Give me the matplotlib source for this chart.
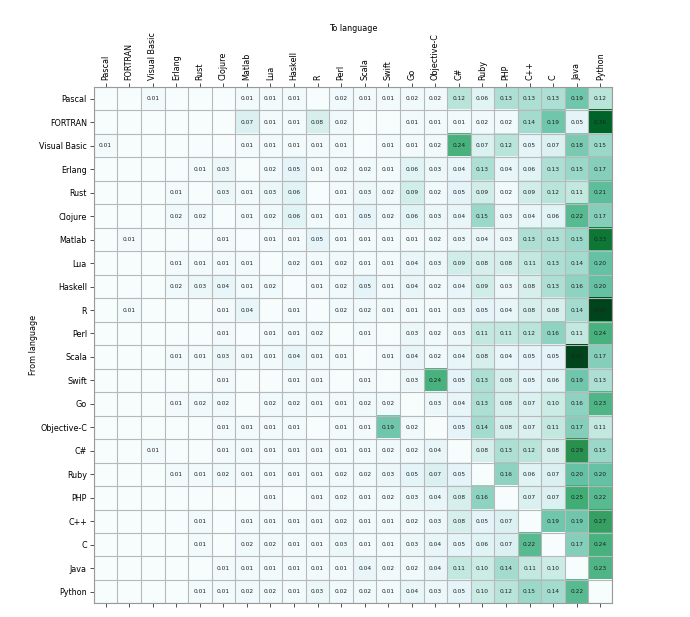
import matplotlib
matplotlib.use('Agg')
import matplotlib.pyplot as plt
import numpy as np

languages = ['Pascal', 'FORTRAN', 'Visual Basic', 'Erlang', 'Rust', 'Clojure',
             'Matlab', 'Lua', 'Haskell', 'R', 'Perl', 'Scala', 'Swift', 'Go',
             'Objective-C', 'C#', 'Ruby', 'PHP', 'C++', 'C', 'Java', 'Python']

# rows = from language, columns = to language (same order as languages)
pascal      = [0, 0, .01, 0, 0, 0, .01, .01, .01, 0, .02, .01, .01, .02, .02, .12, .06, .13, .13, .13, .19, .12]
fortran     = [0, 0, 0, 0, 0, 0, .07, .01, .01, .08, .02, 0, 0, .01, .01, .01, .02, .02, .14, .19, .05, .36]
visualbasic = [.01, 0, 0, 0, 0, 0, .01, .01, .01, .01, .01, 0, .01, .01, .02, .24, .07, .12, .05, .07, .18, .15]
erlang      = [0, 0, 0, 0, .01, .03, 0, .02, .05, .01, .02, .02, .01, .06, .03, .04, .13, .04, .06, .13, .15, .17]
rust        = [0, 0, 0, .01, 0, .03, .01, .03, .06, 0, .01, .03, .02, .09, .02, .05, .09, .02, .09, .12, .11, .21]
clojure     = [0, 0, 0, .02, .02, 0, .01, .02, .06, .01, .01, .05, .02, .06, .03, .04, .15, .03, .04, .06, .22, .17]
matlab      = [0, .01, 0, 0, 0, .01, 0, .01, .01, .05, .01, .01, .01, .01, .02, .03, .04, .03, .13, .13, .15, .33]
lua         = [0, 0, 0, .01, .01, .01, .01, 0, .02, .01, .02, .01, .01, .04, .03, .09, .08, .08, .11, .13, .14, .20]
haskell     = [0, 0, 0, .02, .03, .04, .01, .02, 0, .01, .02, .05, .01, .04, .02, .04, .09, .03, .08, .13, .16, .20]
r_lang      = [0, .01, 0, 0, 0, .01, .04, 0, .01, 0, .02, .02, .01, .01, .01, .03, .05, .04, .08, .08, .14, .40]
perl        = [0, 0, 0, 0, 0, .01, 0, .01, .01, .02, 0, .01, 0, .03, .02, .03, .11, .11, .12, .16, .11, .24]
scala       = [0, 0, 0, .01, .01, .03, .01, .01, .04, .01, .01, 0, .01, .04, .02, .04, .08, .04, .05, .05, .40, .17]
swift       = [0, 0, 0, 0, 0, .01, 0, 0, .01, .01, 0, .01, 0, .03, .24, .05, .13, .08, .05, .06, .19, .13]
go          = [0, 0, 0, .01, .02, .02, 0, .02, .02, .01, .01, .02, .02, 0, .03, .04, .13, .08, .07, .10, .16, .23]
objc        = [0, 0, 0, 0, 0, .01, .01, .01, .01, 0, .01, .01, .19, .02, 0, .05, .14, .08, .07, .11, .17, .11]
csharp      = [0, 0, .01, 0, 0, .01, .01, .01, .01, .01, .01, .01, .02, .02, .04, 0, .08, .13, .12, .08, .29, .15]
ruby        = [0, 0, 0, .01, .01, .02, .01, .01, .01, .01, .02, .02, .03, .05, .07, .05, 0, .16, .06, .07, .20, .20]
php         = [0, 0, 0, 0, 0, 0, 0, .01, 0, .01, .02, .01, .02, .03, .04, .08, .16, 0, .07, .07, .25, .22]
cpp         = [0, 0, 0, 0, .01, 0, .01, .01, .01, .01, .02, .01, .01, .02, .03, .08, .05, .07, 0, .19, .19, .27]
c_lang      = [0, 0, 0, 0, .01, 0, .02, .02, .01, .01, .03, .01, .01, .03, .04, .05, .06, .07, .22, 0, .17, .24]
java        = [0, 0, 0, 0, 0, .01, .01, .01, .01, .01, .01, .04, .02, .02, .04, .11, .10, .14, .11, .10, 0, .23]
python      = [0, 0, 0, 0, .01, .01, .02, .02, .01, .03, .02, .02, .01, .04, .03, .05, .10, .12, .15, .14, .22, 0]

matrix = np.array([pascal, fortran, visualbasic, erlang, rust, clojure, matlab,
                   lua, haskell, r_lang, perl, scala, swift, go, objc, csharp,
                   ruby, php, cpp, c_lang, java, python])

fig = plt.figure(figsize=(6.9, 6.17), dpi=100)
ax = fig.add_axes([0.136, 0.022, 0.751, 0.837])

n = len(languages)
ax.imshow(matrix, cmap='BuGn', vmin=0, vmax=0.40, aspect='auto', interpolation='nearest')

# --- cell annotations ---
for i in range(n):
    for j in range(n):
        v = matrix[i, j]
        if v >= 0.005:
            ax.text(j, i, '%.2f' % v, ha='center', va='center', fontsize=4.2, color='#222222')

# --- cell grid ---
ax.set_xticks(np.arange(-0.5, n, 1), minor=True)
ax.set_yticks(np.arange(-0.5, n, 1), minor=True)
ax.grid(which='minor', color='#b8b8b8', linewidth=0.8)
ax.tick_params(which='minor', length=0)

# --- ticks and labels ---
ax.set_xticks(np.arange(n))
ax.set_yticks(np.arange(n))
ax.set_xticklabels(languages, rotation=90, fontsize=5.8)
ax.set_yticklabels(languages, fontsize=5.8)
ax.tick_params(top=True, labeltop=True, bottom=True, labelbottom=False,
               length=3, width=0.6, color='#333333', pad=2)
ax.xaxis.set_label_position('top')
ax.set_xlabel('To language', fontsize=5.8)
ax.xaxis.set_label_coords(0.5, 1.108)
ax.set_ylabel('From language', fontsize=5.8, labelpad=1)

for s in ax.spines.values():
    s.set_color('#999999')
    s.set_linewidth(0.8)

fig.savefig('out.png', dpi=100)
